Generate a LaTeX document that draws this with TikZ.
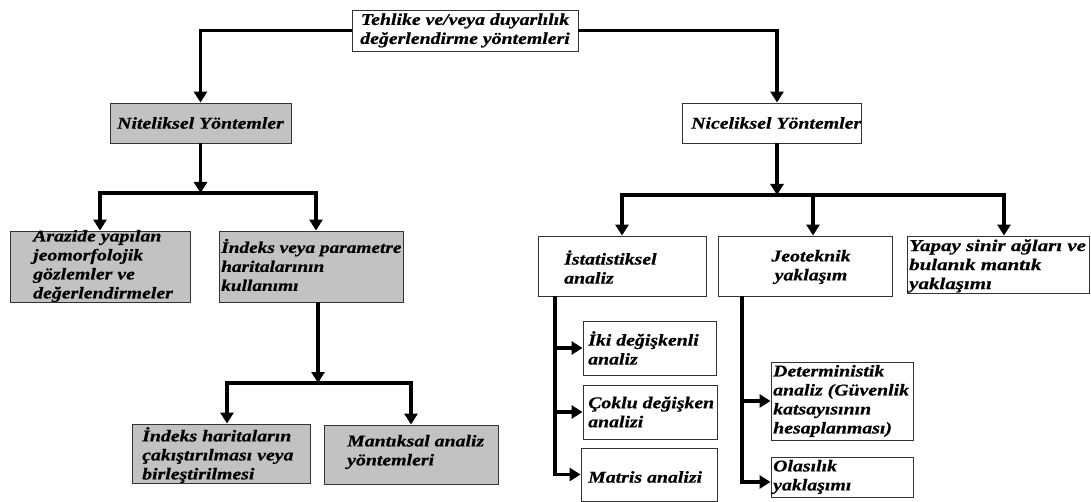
\documentclass[tikz,border=0pt]{standalone}
\usepackage{fontspec}
\setmainfont{Liberation Serif}[FakeStretch=1.20, FakeBold=0.6]
\newfontfamily\widefont{Liberation Serif}[FakeStretch=1.27, FakeBold=0.6]
\usetikzlibrary{arrows.meta,fit}
\tikzset{
  box/.style={draw=black!80, line width=0.9pt, inner sep=0pt},
  gbox/.style={box, fill=black!24},
  txt/.style={font=\fontsize{16.5}{19}\selectfont\bfseries\itshape, inner sep=0pt, align=left},
  stxt/.style={font=\fontsize{16.1}{19}\selectfont\bfseries\itshape, inner sep=0pt, align=left},
  wtxt/.style={font=\widefont\fontsize{16.5}{19}\selectfont\bfseries\itshape, inner sep=0pt, align=left},
  conn/.style={line width=3.2pt},
  arr/.style={conn, -{Triangle[width=13pt,length=11pt]}}
}
\begin{document}
\begin{tikzpicture}[x=1pt,y=-1pt]
\path[use as bounding box, fill=white] (0,0) rectangle (1091,502);
% boxes
\node[box,  fit={(352,10) (578,51)}] (top) {};
\node[gbox, fit={(110,103) (291,143)}] (nitel) {};
\node[box,  fit={(682,103) (861,143)}] (nicel) {};
\node[gbox, fit={(10,231) (190,302)}] (arazide) {};
\node[gbox, fit={(219,231) (403,302)}] (indeks) {};
\node[gbox, fit={(132,424) (310,483)}] (ih) {};
\node[gbox, fit={(324,425) (498,484)}] (mant) {};
\node[box,  fit={(538,236) (706,296)}] (ist) {};
\node[box,  fit={(718,236) (892,296)}] (jeo) {};
\node[box,  fit={(907,236) (1089,293)}] (yapay) {};
\node[box,  fit={(583,321) (716,375)}] (iki) {};
\node[box,  fit={(583,385) (717,439)}] (coklu) {};
\node[box,  fit={(581,448) (717,501)}] (matris) {};
\node[box,  fit={(771,362) (913,440)}] (det) {};
\node[box,  fit={(771,457) (913,497)}] (olas) {};
% texts
\node[txt, align=center] (top-t) at (top) {Tehlike ve/veya duyarlılık\\değerlendirme yöntemleri};
\node[txt] (nitel-t) at (nitel) {Niteliksel Yöntemler};
\node[txt, anchor=west] (nicel-t) at (691,123) {Niceliksel Yöntemler};
\node[txt, anchor=west] (arazide-t) at (33,266) {Arazide yapılan\\jeomorfolojik\\gözlemler ve\\değerlendirmeler};
\node[stxt, anchor=west] (indeks-t) at (221,265) {İndeks veya parametre\\haritalarının\\kullanımı};
\node[txt, anchor=west] (ih-t) at (142,455) {İndeks haritaların\\çakıştırılması veya\\birleştirilmesi};
\node[txt, anchor=west] (mant-t) at (347,452) {Mantıksal analiz\\yöntemleri};
\node[txt, anchor=west] (ist-t) at (564,267) {İstatistiksel\\analiz};
\node[txt, align=center] (jeo-t) at (811,267) {Jeoteknik\\yaklaşım};
\node[wtxt, anchor=west] (yapay-t) at (909,266) {Yapay sinir ağları ve\\bulanık mantık\\yaklaşımı};
\node[txt, anchor=west] (iki-t) at (588,348) {İki değişkenli\\analiz};
\node[txt, anchor=west] (coklu-t) at (588,412) {Çoklu değişken\\analizi};
\node[txt, anchor=west] (matris-t) at (588,477) {Matris analizi};
\node[txt, anchor=west] (det-t) at (773,401) {Deterministik\\analiz (Güvenlik\\katsayısının\\hesaplanması)};
\node[txt, anchor=west] (olas-t) at (773,477) {Olasılık\\yaklaşımı};
% connectors
\draw[arr] (top.west) -| (nitel.north);
\draw[arr] (top.east) -| ([xshift=5.5pt]nicel.north);
\coordinate (nj) at (200.5,193);
\draw[arr] (nitel.south) -- (nj);
\draw[arr] (nj) -| (arazide.north);
\draw[arr] (nj) -| ([xshift=5pt]indeks.north);
\coordinate (ij) at (318,383);
\draw[arr] (indeks.south -| ij) -- (ij);
\draw[arr] (ij) -| ([xshift=6pt]ih.north);
\draw[arr] (ij) -| (mant.north);
\coordinate (ncj) at (777,195);
\draw[arr] ([xshift=5.5pt]nicel.south) -- (ncj);
\draw[arr] (ncj) -| (ist.north);
\draw[arr] (ncj) -| ([xshift=8pt]jeo.north);
\draw[arr] (ncj) -| ([xshift=6pt]yapay.north);
\coordinate (ibx) at (555,0);
\draw[arr] (ist.south -| ibx) |- (iki.west);
\draw[arr] (ist.south -| ibx) |- (coklu.west);
\draw[arr] (ist.south -| ibx) |- (matris.west);
\coordinate (jbx) at (742,0);
\draw[arr] (jeo.south -| jbx) |- (det.west);
\draw[arr] (jeo.south -| jbx) |- ([yshift=-5pt]olas.west);
\end{tikzpicture}
\end{document}
